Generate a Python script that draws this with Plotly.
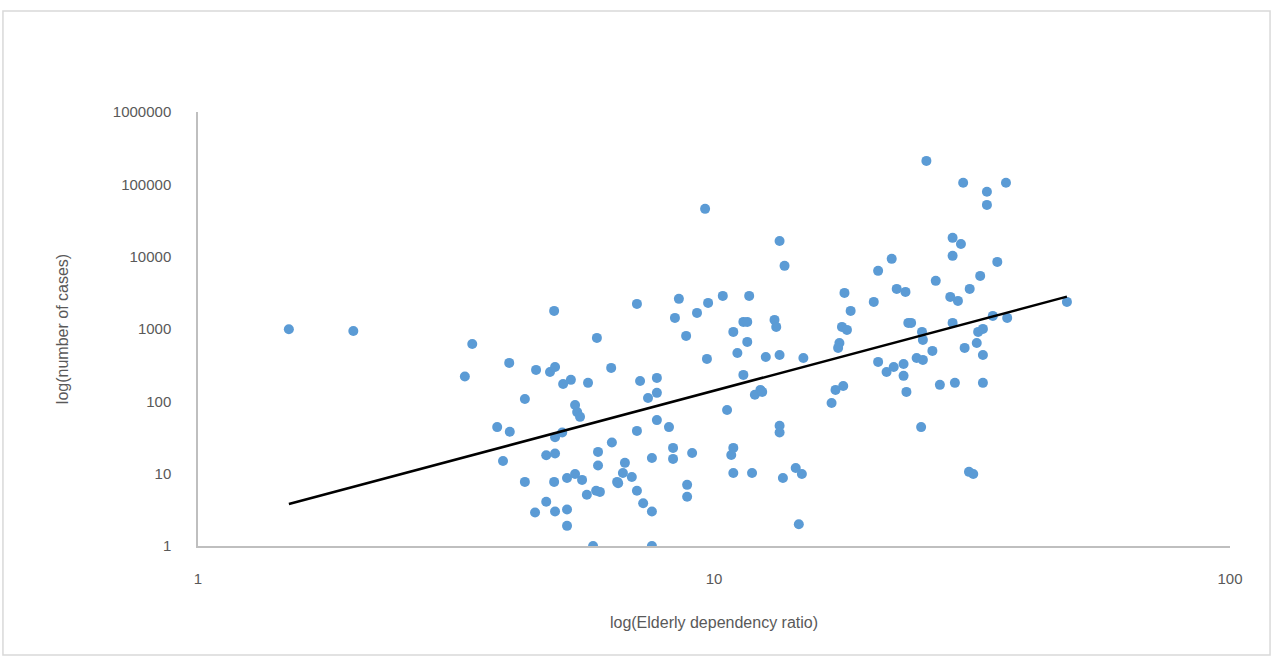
import plotly.graph_objects as go

# Elderly dependency ratio (x) and number of cases (y)
ratio = [
    1.5, 2.0, 3.40, 3.29, 4.01, 4.52, 4.81, 4.92, 5.10, 5.28, 5.70, 4.90, 5.93, 6.32,
    4.30, 5.38, 5.43, 5.50, 3.80, 4.02, 4.92, 5.08, 6.34, 5.96, 5.96, 3.90, 4.73, 4.92,
    4.30, 4.90, 5.19, 5.38, 5.55, 5.67, 5.91, 6.49, 4.50, 4.73, 4.92, 5.19, 5.19, 5.83,
    9.61, 13.4, 13.7, 7.09, 8.55, 9.74, 10.4, 11.7, 8.40, 9.27, 8.83, 10.9, 11.4, 11.6,
    11.6, 11.1, 13.1, 13.2, 9.69, 12.6, 13.4, 7.19, 7.75, 7.45, 7.75, 11.4, 12.0, 12.3,
    10.6, 7.75, 8.18, 7.09, 13.4, 13.4, 7.58, 8.33, 8.33, 9.07, 10.9, 10.8, 6.72, 6.66,
    6.93, 6.52, 7.09, 7.29, 7.58, 8.87, 8.87, 10.9, 11.85, 6.01, 7.58,
    22.1, 20.8, 17.9, 20.4, 22.6, 23.5, 18.4, 17.7, 18.1, 17.5, 17.4, 14.9, 23.8, 20.8,
    21.6, 22.3, 23.3, 23.3, 23.6, 12.4, 17.8, 17.2, 16.9, 14.4, 14.8, 13.6, 14.6,
    25.8, 30.4, 33.8, 33.8, 36.8, 29.0, 30.1, 29.0, 35.4, 26.9, 32.8, 31.3, 28.7, 29.7,
    24.1, 29.0, 34.7, 37.0, 25.3, 25.4, 32.5, 33.2, 26.5, 30.6, 32.3, 33.2, 24.7, 25.4,
    27.4, 29.3, 33.2, 25.2, 31.2, 31.8, 48.3,
]
cases = [
    990, 940, 620, 220, 340, 272, 255, 299, 174, 198, 180, 1780, 753, 290,
    108, 89, 71, 61, 44, 38, 32, 37, 27, 20, 13, 15, 18, 19,
    7.7, 7.7, 8.7, 9.9, 8.2, 5.1, 5.8, 7.7, 2.9, 4.1, 3.0, 3.2, 1.9, 1,
    45800, 16500, 7460, 2225, 2610, 2296, 2870, 2870, 1424, 1670, 803, 912, 1254, 1254,
    663, 467, 1336, 1069, 386, 411, 438, 191, 211, 111, 131, 232, 123, 144,
    76, 55, 44, 39, 46, 37, 16.5, 22.7, 16.0, 19.3, 22.7, 18.1, 14.1, 10.2,
    9.0, 7.4, 5.8, 3.9, 3.0, 7.0, 4.8, 10.2, 10.2, 5.6, 1,
    9325, 6363, 3158, 2371, 3586, 3260, 1780, 1069, 972, 642, 548, 398, 1215, 351,
    255, 299, 329, 225, 135, 135, 163, 144, 95, 12.0, 9.9, 8.7, 2.0,
    211000, 104900, 78800, 52000, 104900, 18200, 15000, 10260, 8470, 4630, 5423, 3586, 2780, 2447,
    1215, 1215, 1518, 1424, 912, 707, 912, 1003, 498, 548, 642, 438, 398, 374,
    169, 180, 180, 44, 10.6, 9.9, 2371,
]

# Power trend line end points
trend_x = [1.5, 48.3]
trend_y = [3.8, 2800]

x_ticks = [1, 10, 100]
y_ticks = [1, 10, 100, 1000, 10000, 100000, 1000000]

fig = go.Figure()
fig.add_trace(go.Scatter(
    x=ratio, y=cases, mode="markers",
    marker=dict(color="#5b9bd5", size=10, line=dict(width=0)),
    showlegend=False, hoverinfo="x+y",
))
fig.add_trace(go.Scatter(
    x=trend_x, y=trend_y, mode="lines",
    line=dict(color="#000000", width=2.5),
    showlegend=False, hoverinfo="skip",
))

font_family = "Liberation Sans, Arial, sans-serif"
fig.update_layout(
    width=1275, height=661,
    margin=dict(l=198, r=45, t=112, b=115, autoexpand=False),
    paper_bgcolor="white", plot_bgcolor="white",
    font=dict(family=font_family, color="#595959", size=15),
    xaxis=dict(
        type="log", range=[0, 2],
        tickvals=x_ticks, ticktext=[str(v) for v in x_ticks],
        showgrid=False, zeroline=False,
        showline=True, linecolor="#bfbfbf", linewidth=1.5,
        ticks="", ticklabelstandoff=18,
        tickfont=dict(size=15, color="#595959"),
        title=dict(text="log(Elderly dependency ratio)", standoff=31,
                   font=dict(size=16, color="#595959")),
    ),
    yaxis=dict(
        type="log", range=[0, 6],
        tickvals=y_ticks, ticktext=[str(v) for v in y_ticks],
        showgrid=False, zeroline=False,
        showline=True, linecolor="#bfbfbf", linewidth=1.5,
        ticks="", ticklabelstandoff=22,
        tickfont=dict(size=15, color="#595959"),
        title=dict(text="log(number of cases)", standoff=40,
                   font=dict(size=16, color="#595959")),
    ),
    shapes=[dict(
        type="rect", xref="paper", yref="paper",
        x0=-0.189, x1=1.0388, y0=-0.2512, y1=1.2327,
        line=dict(color="#d9d9d9", width=1.5), fillcolor="rgba(0,0,0,0)",
        layer="below",
    )],
)

fig.write_html(
    "out.html",
    config={"displayModeBar": False},
    post_script="document.body.style.margin='0';document.body.style.overflow='hidden';",
)
